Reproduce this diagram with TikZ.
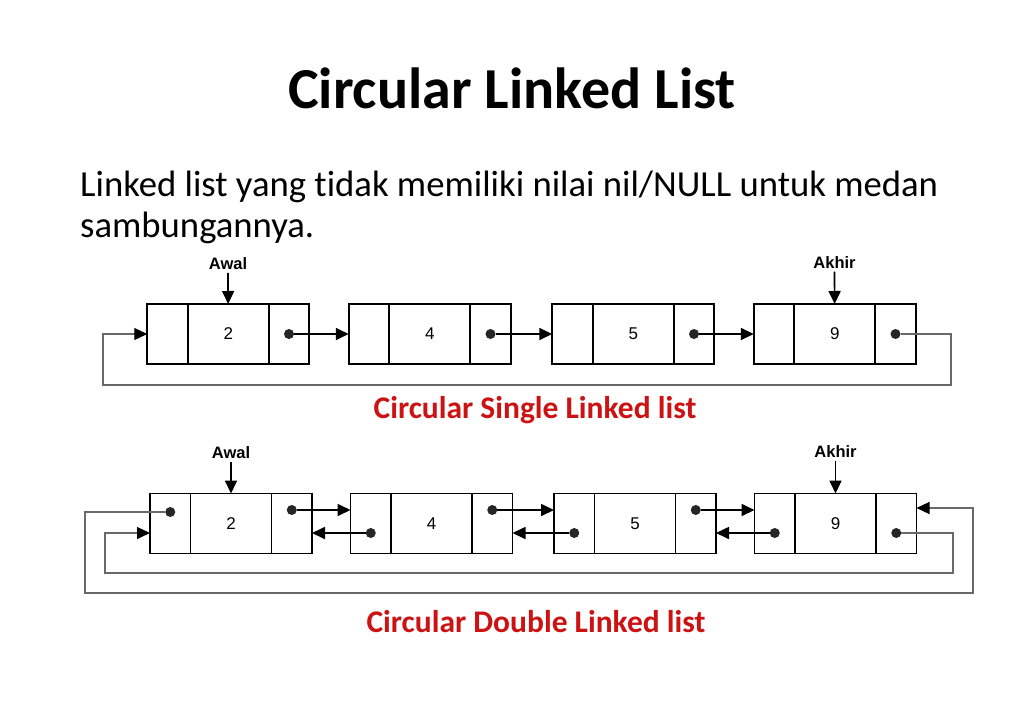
\documentclass[tikz,border=0pt]{standalone}
\usepackage{fontspec}
\setmainfont{Carlito}[RawFeature=-liga]
\newfontfamily\arialfont{Liberation Sans}
\usetikzlibrary{positioning,arrows.meta}
\definecolor{capred}{RGB}{204,18,18}
\definecolor{loopgray}{RGB}{105,105,105}

\begin{document}
\begin{tikzpicture}[x=1pt,y=-1pt,
  ptr/.style={draw,line width=1.9pt,minimum width=40.5pt,minimum height=60pt,inner sep=0pt,outer sep=0pt},
  val/.style={ptr,minimum width=81pt,font=\arialfont\fontsize{17}{17}\selectfont},
  dot/.style={circle,fill=black!85,inner sep=0pt,minimum size=10pt},
  link/.style={line width=1.7pt,-{Triangle[length=13pt,width=12pt]}},
  wrap/.style={line width=1.1pt,draw=loopgray,-{Triangle[length=13pt,width=12pt,color=black]}},
  tag/.style={font=\arialfont\bfseries\fontsize{16.5}{16.5}\selectfont,inner sep=3pt},
  caption/.style={font=\bfseries\fontsize{31.5}{31.5}\selectfont,text=capred}]

\useasboundingbox[fill=white] (0,0) rectangle (1024,709);

\node[anchor=base,font=\bfseries\fontsize{58}{58}\selectfont] (title) at (512,108) {Circular Linked List};
\node[anchor=base west,font=\fontsize{36.7}{36.7}\selectfont,inner sep=0pt] (line1) at (80,196.7) {Linked list yang tidak memiliki nilai nil/NULL untuk medan};
\node[anchor=base west,font=\fontsize{36.7}{36.7}\selectfont,inner sep=0pt] (line2) at (80,237.3) {sambungannya.};

\node[ptr] (l1) at (167.5,334) {};
\node[val,right=0pt of l1] (v1) {2};
\node[ptr,right=0pt of v1] (r1) {};
\node[ptr] (l2) at (369,334) {};
\node[val,right=0pt of l2] (v2) {4};
\node[ptr,right=0pt of v2] (r2) {};
\node[ptr] (l3) at (572.5,334) {};
\node[val,right=0pt of l3] (v3) {5};
\node[ptr,right=0pt of v3] (r3) {};
\node[ptr] (l4) at (774,334) {};
\node[val,right=0pt of l4] (v4) {9};
\node[ptr,right=0pt of v4] (r4) {};

\node[dot] (d1) at (r1.center) {};
\node[dot] (d2) at (r2.center) {};
\node[dot] (d3) at (r3.center) {};
\node[dot] (d4) at (r4.center) {};
\draw[link] (d1) -- (l2);
\draw[link] (d2) -- (l3);
\draw[link] (d3) -- (l4);

\coordinate (t1) at (951,385);
\coordinate (t2) at (103,334);
\draw[wrap] (d4) -| (t1) -| (t2) -- (l1);

\node[tag] (awal1) at (228,263.5) {Awal};
\node[tag] (akhir1) at (834.5,262.5) {Akhir};
\draw[link] (awal1) -- (v1);
\draw[link] (akhir1) -- (v4);

\node[caption,anchor=base] (cap1) at (535,418) {Circular Single Linked list};

\node[ptr] (p1) at (170.25,523.5) {};
\node[val,right=0pt of p1] (w1) {2};
\node[ptr,right=0pt of w1] (q1) {};
\node[ptr] (p2) at (370.75,523.5) {};
\node[val,right=0pt of p2] (w2) {4};
\node[ptr,right=0pt of w2] (q2) {};
\node[ptr] (p3) at (574.25,523.5) {};
\node[val,right=0pt of p3] (w3) {5};
\node[ptr,right=0pt of w3] (q3) {};
\node[ptr] (p4) at (774.75,523.5) {};
\node[val,right=0pt of p4] (w4) {9};
\node[ptr,right=0pt of w4] (q4) {};

\node[dot] (f1) at ([yshift=13.5pt]q1.center) {};
\node[dot] (f2) at ([yshift=13.5pt]q2.center) {};
\node[dot] (f3) at ([yshift=13.5pt]q3.center) {};
\node[dot] (b2) at ([yshift=-9.5pt]p2.center) {};
\node[dot] (b3) at ([yshift=-9.5pt]p3.center) {};
\node[dot] (b4) at ([yshift=-9.5pt]p4.center) {};
\node[dot] (h1) at ([yshift=11.5pt]p1.center) {};
\node[dot] (g4) at ([yshift=-9.5pt]q4.center) {};

\draw[link] (f1) -- (f1 -| p2.west);
\draw[link] (f2) -- (f2 -| p3.west);
\draw[link] (f3) -- (f3 -| p4.west);
\draw[link] (b2) -- (b2 -| q1.east);
\draw[link] (b3) -- (b3 -| q2.east);
\draw[link] (b4) -- (b4 -| q3.east);

\coordinate (u1) at (953,573);
\coordinate (u2) at (105,533);
\draw[wrap] (g4) -| (u1) -| (u2) -- (u2 -| p1.west);
\coordinate (o1) at (85,593);
\coordinate (o2) at (973,508);
\draw[wrap] (h1) -| (o1) -| (o2) -- (o2 -| q4.east);

\node[tag] (awal2) at (231,452.5) {Awal};
\node[tag] (akhir2) at (835.5,451.5) {Akhir};
\draw[link] (awal2) -- (w1);
\draw[link] (akhir2) -- (w4);

\node[caption,anchor=base] (cap2) at (536,632) {Circular Double Linked list};

\end{tikzpicture}
\end{document}
